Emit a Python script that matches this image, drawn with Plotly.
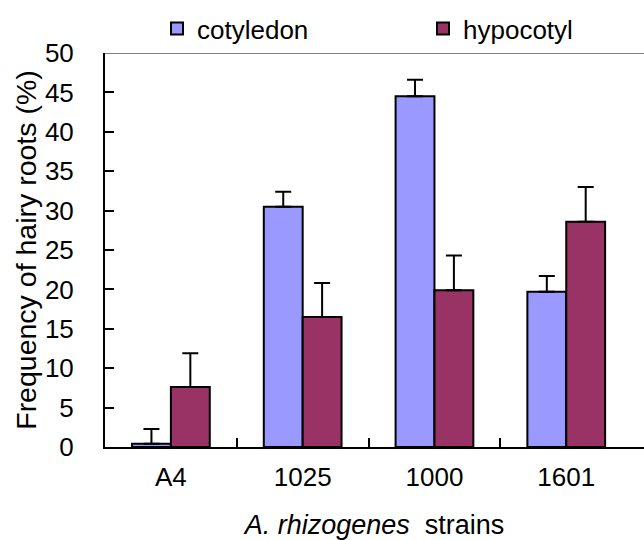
import plotly.graph_objects as go

categories = ["A4", "1025", "1000", "1601"]
cotyledon = [0.4, 30.5, 44.5, 19.7]
cotyledon_err = [1.9, 1.9, 2.1, 2.0]
hypocotyl = [7.6, 16.5, 19.9, 28.6]
hypocotyl_err = [4.3, 4.3, 4.4, 4.4]
y_ticks = list(range(0, 51, 5))

x_pos = list(range(len(categories)))
boundaries = [i + 0.5 for i in x_pos[:-1]]

FONT = "Liberation Sans, Arial, sans-serif"

fig = go.Figure()
fig.add_trace(go.Bar(
    name="cotyledon", x=x_pos, y=cotyledon, legend="legend",
    marker=dict(color="#9999FF", line=dict(color="black", width=2)),
    error_y=dict(type="data", array=cotyledon_err, symmetric=False,
                 arrayminus=[0] * len(categories), color="black", thickness=2, width=8),
))
fig.add_trace(go.Bar(
    name="hypocotyl", x=x_pos, y=hypocotyl, legend="legend2",
    marker=dict(color="#993366", line=dict(color="black", width=2)),
    error_y=dict(type="data", array=hypocotyl_err, symmetric=False,
                 arrayminus=[0] * len(categories), color="black", thickness=2, width=8),
))

legend_common = dict(orientation="h", xanchor="left", yanchor="middle", y=1.062,
                     font=dict(size=26), bgcolor="rgba(0,0,0,0)", borderwidth=0)

fig.update_layout(
    width=644, height=540,
    margin=dict(l=105, r=0, t=53, b=93, autoexpand=False),
    paper_bgcolor="white", plot_bgcolor="white",
    barmode="group", bargap=0.41, bargroupgap=0,
    font=dict(family=FONT, size=26, color="black"),
    showlegend=True,
    legend=dict(x=(157 - 105) / 539, **legend_common),
    legend2=dict(x=(423 - 105) / 539, **legend_common),
    xaxis=dict(
        range=[-0.5, 3.59], tickmode="array", tickvals=x_pos, ticktext=categories,
        ticks="", showline=True, linecolor="black", linewidth=2, automargin=False,
        showgrid=False, zeroline=False, ticklabelstandoff=6,
        minor=dict(tickmode="array", tickvals=boundaries, ticks="inside",
                   ticklen=9, tickwidth=2, tickcolor="black", showgrid=False),
        title=dict(text="<i>A. rhizogenes</i>  strains", font=dict(size=27), standoff=32),
    ),
    yaxis=dict(
        range=[0, 50], tickmode="array", tickvals=y_ticks, automargin=False,
        ticks="inside", ticklen=9, tickwidth=2, tickcolor="black",
        showline=True, linecolor="black", linewidth=2,
        showgrid=False, zeroline=False, ticklabelstandoff=24,
        title=dict(text="Frequency of hairy roots (%)", font=dict(size=28.5), standoff=0),
    ),
    shapes=[dict(type="line", xref="paper", yref="y", x0=0, x1=1, y0=50, y1=50,
                 line=dict(color="#808080", width=2), layer="below")],
)

fig.write_html("out.html")
